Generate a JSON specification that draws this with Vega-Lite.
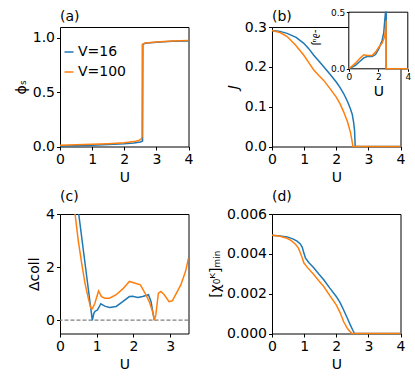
{
  "$schema": "https://vega.github.io/schema/vega-lite/v6.json",
  "padding": {"left": 13, "top": 7, "right": 5, "bottom": 5},
  "background": "white",
  "columns": 2,
  "bounds": "flush",
  "spacing": {"row": 67, "column": 83},
  "resolve": {"scale": {"color": "independent"}, "legend": {"color": "independent"}},
  "config": {
    "font": "DejaVu Sans",
    "view": {"stroke": "black", "strokeWidth": 1},
    "axis": {"domain": false, "grid": false, "tickColor": "black", "tickSize": 3.5, "tickWidth": 1, "labelColor": "black", "labelFontSize": 14, "titleFontSize": 14, "titleFontWeight": "normal", "titleColor": "black", "labelPadding": 2, "titlePadding": 4, "labelFlush": false, "labelOverlap": false},
    "title": {"anchor": "start", "frame": "group", "fontSize": 14, "fontWeight": "normal", "offset": 3, "color": "black"},
    "line": {"strokeWidth": 1.5}
  },
  "concat": [
    {
      "title": "(a)",
      "width": 128.5, "height": 119.5,
      "data": {"values": [
        {"U":0,"y":0.005,"V":"V=16"},{"U":0.5,"y":0.008,"V":"V=16"},{"U":1,"y":0.012,"V":"V=16"},{"U":1.5,"y":0.018,"V":"V=16"},{"U":2,"y":0.026,"V":"V=16"},{"U":2.3,"y":0.033,"V":"V=16"},{"U":2.5,"y":0.042,"V":"V=16"},{"U":2.57,"y":0.05,"V":"V=16"},{"U":2.58,"y":0.94,"V":"V=16"},{"U":2.65,"y":0.95,"V":"V=16"},{"U":3,"y":0.96,"V":"V=16"},{"U":3.5,"y":0.968,"V":"V=16"},{"U":4,"y":0.972,"V":"V=16"},
        {"U":0,"y":0.012,"V":"V=100"},{"U":0.5,"y":0.015,"V":"V=100"},{"U":1,"y":0.02,"V":"V=100"},{"U":1.5,"y":0.026,"V":"V=100"},{"U":2,"y":0.035,"V":"V=100"},{"U":2.3,"y":0.045,"V":"V=100"},{"U":2.45,"y":0.055,"V":"V=100"},{"U":2.53,"y":0.07,"V":"V=100"},{"U":2.555,"y":0.09,"V":"V=100"},{"U":2.56,"y":0.94,"V":"V=100"},{"U":2.65,"y":0.952,"V":"V=100"},{"U":3,"y":0.962,"V":"V=100"},{"U":3.5,"y":0.97,"V":"V=100"},{"U":4,"y":0.975,"V":"V=100"}
      ]},
      "mark": {"type": "line", "strokeWidth": 1.5},
      "encoding": {
        "x": {"field": "U", "type": "quantitative", "scale": {"domain": [0, 4], "nice": false, "zero": false}, "axis": {"values": [0,1,2,3,4], "format": "d", "title": "U"}},
        "y": {"field": "y", "type": "quantitative", "scale": {"domain": [0, 1.1], "nice": false}, "axis": {"values": [0,0.5,1], "format": ".1f", "title": "ϕₛ"}},
        "color": {"field": "V", "type": "nominal", "scale": {"domain": ["V=16","V=100"], "range": ["#1f77b4","#ff7f0e"]},
          "legend": {"orient": "none", "legendX": 2, "legendY": 18, "title": null, "symbolType": "stroke", "symbolSize": 81, "symbolStrokeWidth": 1.5, "labelFontSize": 14, "labelColor": "black", "labelOffset": 2, "rowPadding": 6, "padding": 0}}
      }
    },
    {
      "title": {"text": "(b)", "offset": -15.5},
      "width": 128.5, "height": 119.5,
      "resolve": {"scale": {"x": "independent", "y": "independent"}},
      "layer": [
        {
          "data": {"values": [
            {"U":0,"y":0.291,"V":"V=16"},{"U":0.25,"y":0.289,"V":"V=16"},{"U":0.47,"y":0.284,"V":"V=16"},{"U":0.75,"y":0.274,"V":"V=16"},{"U":0.99,"y":0.259,"V":"V=16"},{"U":1.15,"y":0.245,"V":"V=16"},{"U":1.3,"y":0.229,"V":"V=16"},{"U":1.45,"y":0.215,"V":"V=16"},{"U":1.61,"y":0.2,"V":"V=16"},{"U":1.8,"y":0.182,"V":"V=16"},{"U":2.0,"y":0.162,"V":"V=16"},{"U":2.12,"y":0.148,"V":"V=16"},{"U":2.23,"y":0.133,"V":"V=16"},{"U":2.35,"y":0.113,"V":"V=16"},{"U":2.44,"y":0.095,"V":"V=16"},{"U":2.5,"y":0.08,"V":"V=16"},{"U":2.54,"y":0.061,"V":"V=16"},{"U":2.57,"y":0.04,"V":"V=16"},{"U":2.59,"y":0,"V":"V=16"},{"U":3,"y":0,"V":"V=16"},{"U":4,"y":0,"V":"V=16"},
            {"U":0,"y":0.291,"V":"V=100"},{"U":0.25,"y":0.286,"V":"V=100"},{"U":0.47,"y":0.276,"V":"V=100"},{"U":0.73,"y":0.255,"V":"V=100"},{"U":0.99,"y":0.229,"V":"V=100"},{"U":1.15,"y":0.21,"V":"V=100"},{"U":1.3,"y":0.192,"V":"V=100"},{"U":1.45,"y":0.179,"V":"V=100"},{"U":1.61,"y":0.166,"V":"V=100"},{"U":1.8,"y":0.146,"V":"V=100"},{"U":2.0,"y":0.124,"V":"V=100"},{"U":2.12,"y":0.107,"V":"V=100"},{"U":2.23,"y":0.087,"V":"V=100"},{"U":2.35,"y":0.062,"V":"V=100"},{"U":2.44,"y":0.036,"V":"V=100"},{"U":2.49,"y":0.015,"V":"V=100"},{"U":2.52,"y":0,"V":"V=100"},{"U":3,"y":0,"V":"V=100"},{"U":4,"y":0,"V":"V=100"}
          ]},
          "mark": {"type": "line", "strokeWidth": 1.5},
          "encoding": {
            "x": {"field": "U", "type": "quantitative", "scale": {"domain": [0, 4], "nice": false, "zero": false}, "axis": {"values": [0,1,2,3,4], "format": "d", "title": "U"}},
            "y": {"field": "y", "type": "quantitative", "scale": {"domain": [0, 0.3], "nice": false}, "axis": {"values": [0,0.1,0.2,0.3], "format": ".1f", "title": "J", "titleFontStyle": "italic"}},
            "color": {"field": "V", "type": "nominal", "scale": {"domain": ["V=16","V=100"], "range": ["#1f77b4","#ff7f0e"]}, "legend": null}
          }
        },
        {
          "layer": [
            {
              "data": {"values": [{}]},
              "mark": {"type": "rect", "fill": "white", "stroke": "black", "strokeWidth": 1},
              "encoding": {
                "x": {"datum": 0, "type": "quantitative", "scale": {"domain": [0, 4], "range": [76.8, 135.8], "nice": false, "zero": false},
                  "axis": {"orient": "bottom", "offset": -77.7, "values": [0,2,4], "format": "d", "title": "U", "labelFontSize": 9, "tickSize": 2.5, "labelPadding": 1.5, "titlePadding": 3, "zindex": 1}},
                "x2": {"datum": 4},
                "y": {"datum": 0, "type": "quantitative", "scale": {"domain": [0, 0.5], "range": [41.8, -14.8], "nice": false, "clamp": true},
                  "axis": {"orient": "left", "offset": -76.8, "values": [0,0.5], "format": ".1f", "title": "-∂ᵤJ", "titleAngle": 90, "titleBaseline": "top", "titleAlign": "center", "titleX": -28, "titleY": 10, "titleFontSize": 10, "labelFontSize": 9, "tickSize": 2.5, "labelPadding": 1.5, "zindex": 1}},
                "y2": {"datum": 0.5}
              }
            },
            {
              "data": {"values": [
                {"U":0,"y":0,"V":"V=16"},{"U":0.2,"y":0.012,"V":"V=16"},{"U":0.45,"y":0.03,"V":"V=16"},{"U":0.7,"y":0.06,"V":"V=16"},{"U":1.02,"y":0.097,"V":"V=16"},{"U":1.24,"y":0.109,"V":"V=16"},{"U":1.58,"y":0.109,"V":"V=16"},{"U":1.81,"y":0.126,"V":"V=16"},{"U":2.03,"y":0.176,"V":"V=16"},{"U":2.26,"y":0.25,"V":"V=16"},{"U":2.37,"y":0.32,"V":"V=16"},{"U":2.44,"y":0.43,"V":"V=16"},{"U":2.49,"y":0.52,"V":"V=16"},{"U":2.52,"y":0.9,"V":"V=16"},{"U":2.534,"y":0.9,"V":"V=16"},{"U":2.536,"y":0,"V":"V=16"},{"U":3,"y":0,"V":"V=16"},{"U":4,"y":0,"V":"V=16"},
                {"U":0,"y":0,"V":"V=100"},{"U":0.2,"y":0.022,"V":"V=100"},{"U":0.45,"y":0.05,"V":"V=100"},{"U":0.6,"y":0.072,"V":"V=100"},{"U":0.79,"y":0.097,"V":"V=100"},{"U":1.02,"y":0.124,"V":"V=100"},{"U":1.24,"y":0.118,"V":"V=100"},{"U":1.58,"y":0.118,"V":"V=100"},{"U":1.81,"y":0.147,"V":"V=100"},{"U":2.03,"y":0.19,"V":"V=100"},{"U":2.26,"y":0.226,"V":"V=100"},{"U":2.42,"y":0.28,"V":"V=100"},{"U":2.48,"y":0.33,"V":"V=100"},{"U":2.515,"y":0.42,"V":"V=100"},{"U":2.53,"y":0.42,"V":"V=100"},{"U":2.532,"y":0,"V":"V=100"},{"U":3,"y":0,"V":"V=100"},{"U":4,"y":0,"V":"V=100"}
              ]},
              "mark": {"type": "line", "strokeWidth": 1.5},
              "encoding": {
                "x": {"field": "U", "type": "quantitative", "scale": {"domain": [0, 4], "range": [76.8, 135.8], "nice": false, "zero": false},
                  "axis": {"orient": "bottom", "offset": -77.7, "values": [0,2,4], "format": "d", "title": "U", "labelFontSize": 9, "tickSize": 2.5, "labelPadding": 1.5, "titlePadding": 3, "zindex": 1}},
                "y": {"field": "y", "type": "quantitative", "scale": {"domain": [0, 0.5], "range": [41.8, -14.8], "nice": false, "clamp": true},
                  "axis": {"orient": "left", "offset": -76.8, "values": [0,0.5], "format": ".1f", "title": "-∂ᵤJ", "titleAngle": 90, "titleBaseline": "top", "titleAlign": "center", "titleX": -28, "titleY": 10, "titleFontSize": 10, "labelFontSize": 9, "tickSize": 2.5, "labelPadding": 1.5, "zindex": 1}},
                "color": {"field": "V", "type": "nominal", "scale": {"domain": ["V=16","V=100"], "range": ["#1f77b4","#ff7f0e"]}, "legend": null}
              }
            }
          ]
        }
      ]
    },
    {
      "title": "(c)",
      "width": 128.5, "height": 119.5,
      "layer": [
        {
          "data": {"values": [{}]},
          "mark": {"type": "rule", "strokeDash": [4, 2], "color": "#808080", "strokeWidth": 1.2},
          "encoding": {"y": {"datum": 0, "type": "quantitative"}}
        },
        {
          "data": {"values": [
            {"U":0.4,"y":5.2,"V":"V=16"},{"U":0.51,"y":4.0,"V":"V=16"},{"U":0.88,"y":0.0,"V":"V=16"},{"U":0.92,"y":0.25,"V":"V=16"},{"U":0.95,"y":0.33,"V":"V=16"},{"U":1.02,"y":0.39,"V":"V=16"},{"U":1.06,"y":0.48,"V":"V=16"},{"U":1.11,"y":0.62,"V":"V=16"},{"U":1.22,"y":0.53,"V":"V=16"},{"U":1.35,"y":0.48,"V":"V=16"},{"U":1.53,"y":0.52,"V":"V=16"},{"U":1.71,"y":0.7,"V":"V=16"},{"U":1.89,"y":0.89,"V":"V=16"},{"U":1.98,"y":0.9,"V":"V=16"},{"U":2.12,"y":0.86,"V":"V=16"},{"U":2.25,"y":0.89,"V":"V=16"},{"U":2.41,"y":0.96,"V":"V=16"},{"U":2.48,"y":0.7,"V":"V=16"},{"U":2.53,"y":0.3,"V":"V=16"},{"U":2.57,"y":0.0,"V":"V=16"},
            {"U":0.3,"y":5.6,"V":"V=100"},{"U":0.41,"y":4.0,"V":"V=100"},{"U":0.5,"y":2.97,"V":"V=100"},{"U":0.59,"y":2.15,"V":"V=100"},{"U":0.68,"y":1.4,"V":"V=100"},{"U":0.77,"y":0.83,"V":"V=100"},{"U":0.84,"y":0.45,"V":"V=100"},{"U":0.88,"y":0.43,"V":"V=100"},{"U":0.95,"y":0.64,"V":"V=100"},{"U":1.05,"y":1.1,"V":"V=100"},{"U":1.13,"y":0.89,"V":"V=100"},{"U":1.22,"y":0.83,"V":"V=100"},{"U":1.35,"y":0.83,"V":"V=100"},{"U":1.53,"y":0.96,"V":"V=100"},{"U":1.71,"y":1.18,"V":"V=100"},{"U":1.89,"y":1.46,"V":"V=100"},{"U":2.03,"y":1.4,"V":"V=100"},{"U":2.19,"y":1.33,"V":"V=100"},{"U":2.25,"y":1.18,"V":"V=100"},{"U":2.34,"y":0.96,"V":"V=100"},{"U":2.43,"y":0.7,"V":"V=100"},{"U":2.52,"y":0.33,"V":"V=100"},{"U":2.57,"y":0.0,"V":"V=100"},{"U":2.61,"y":0.2,"V":"V=100"},{"U":2.68,"y":1.02,"V":"V=100"},{"U":2.75,"y":1.08,"V":"V=100"},{"U":2.84,"y":0.96,"V":"V=100"},{"U":2.97,"y":0.7,"V":"V=100"},{"U":3.06,"y":0.73,"V":"V=100"},{"U":3.15,"y":0.96,"V":"V=100"},{"U":3.29,"y":1.33,"V":"V=100"},{"U":3.42,"y":1.84,"V":"V=100"},{"U":3.5,"y":2.34,"V":"V=100"}
          ]},
          "mark": {"type": "line", "strokeWidth": 1.5, "clip": true},
          "encoding": {
            "x": {"field": "U", "type": "quantitative", "scale": {"domain": [0, 3.5], "nice": false, "zero": false}, "axis": {"values": [0,1,2,3], "format": "d", "title": "U"}},
            "y": {"field": "y", "type": "quantitative", "scale": {"domain": [-0.5, 4], "nice": false, "zero": false}, "axis": {"values": [0,2,4], "format": "d", "title": "Δcoll"}},
            "color": {"field": "V", "type": "nominal", "scale": {"domain": ["V=16","V=100"], "range": ["#1f77b4","#ff7f0e"]}, "legend": null}
          }
        }
      ]
    },
    {
      "title": "(d)",
      "width": 128.5, "height": 119.5,
      "data": {"values": [
        {"U":0,"y":0.00493,"V":"V=16"},{"U":0.25,"y":0.0049,"V":"V=16"},{"U":0.47,"y":0.00485,"V":"V=16"},{"U":0.65,"y":0.00475,"V":"V=16"},{"U":0.78,"y":0.00464,"V":"V=16"},{"U":0.88,"y":0.0045,"V":"V=16"},{"U":0.94,"y":0.00434,"V":"V=16"},{"U":1.0,"y":0.004,"V":"V=16"},{"U":1.04,"y":0.0038,"V":"V=16"},{"U":1.15,"y":0.00355,"V":"V=16"},{"U":1.3,"y":0.0033,"V":"V=16"},{"U":1.45,"y":0.003,"V":"V=16"},{"U":1.61,"y":0.0027,"V":"V=16"},{"U":1.8,"y":0.00228,"V":"V=16"},{"U":2.0,"y":0.00186,"V":"V=16"},{"U":2.12,"y":0.00155,"V":"V=16"},{"U":2.23,"y":0.00118,"V":"V=16"},{"U":2.35,"y":0.00075,"V":"V=16"},{"U":2.44,"y":0.00042,"V":"V=16"},{"U":2.52,"y":0.00015,"V":"V=16"},{"U":2.57,"y":0,"V":"V=16"},{"U":3,"y":0,"V":"V=16"},{"U":4,"y":0,"V":"V=16"},
        {"U":0,"y":0.00493,"V":"V=100"},{"U":0.25,"y":0.00488,"V":"V=100"},{"U":0.47,"y":0.00478,"V":"V=100"},{"U":0.6,"y":0.00466,"V":"V=100"},{"U":0.73,"y":0.00448,"V":"V=100"},{"U":0.82,"y":0.0043,"V":"V=100"},{"U":0.88,"y":0.00405,"V":"V=100"},{"U":0.94,"y":0.0038,"V":"V=100"},{"U":0.99,"y":0.00355,"V":"V=100"},{"U":1.1,"y":0.00332,"V":"V=100"},{"U":1.3,"y":0.00296,"V":"V=100"},{"U":1.45,"y":0.00266,"V":"V=100"},{"U":1.61,"y":0.00236,"V":"V=100"},{"U":1.8,"y":0.0019,"V":"V=100"},{"U":2.0,"y":0.00144,"V":"V=100"},{"U":2.12,"y":0.00105,"V":"V=100"},{"U":2.23,"y":0.00059,"V":"V=100"},{"U":2.35,"y":0.00025,"V":"V=100"},{"U":2.44,"y":0.00008,"V":"V=100"},{"U":2.49,"y":0,"V":"V=100"},{"U":3,"y":0,"V":"V=100"},{"U":4,"y":0,"V":"V=100"}
      ]},
      "mark": {"type": "line", "strokeWidth": 1.5},
      "encoding": {
        "x": {"field": "U", "type": "quantitative", "scale": {"domain": [0, 4], "nice": false, "zero": false}, "axis": {"values": [0,1,2,3,4], "format": "d", "title": "U"}},
        "y": {"field": "y", "type": "quantitative", "scale": {"domain": [0, 0.006], "nice": false}, "axis": {"values": [0,0.002,0.004,0.006], "format": ".3f", "title": "[χ₀ᴷ]ₘᵢₙ"}},
        "color": {"field": "V", "type": "nominal", "scale": {"domain": ["V=16","V=100"], "range": ["#1f77b4","#ff7f0e"]}, "legend": null}
      }
    }
  ]
}
